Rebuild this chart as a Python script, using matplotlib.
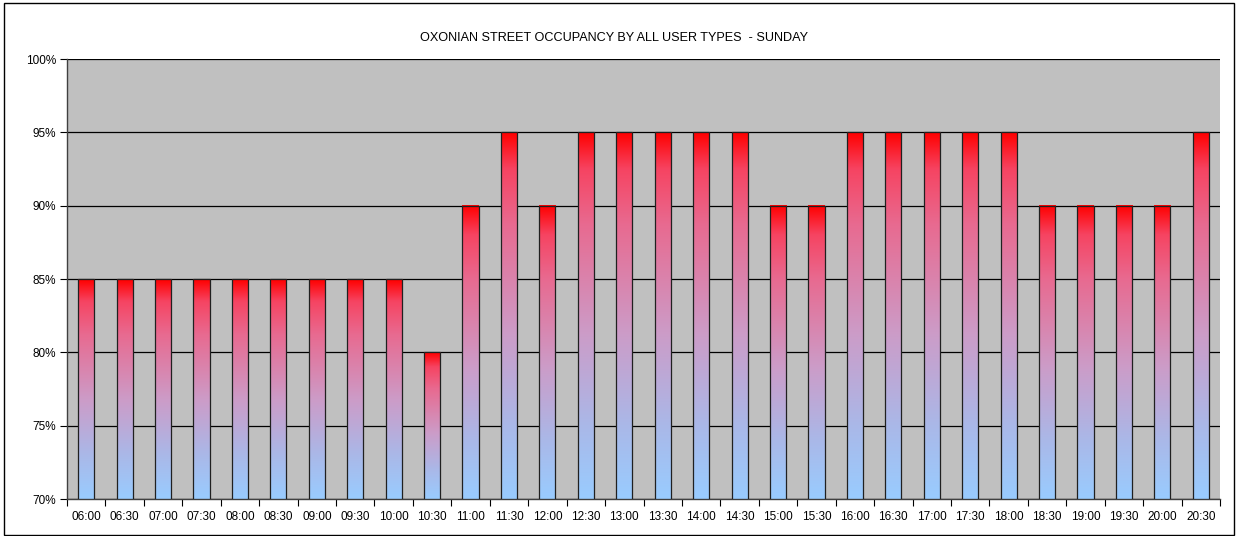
import numpy as np
import matplotlib
matplotlib.use("Agg")
import matplotlib.pyplot as plt
from matplotlib.colors import LinearSegmentedColormap
from matplotlib.patches import Rectangle
from matplotlib.ticker import FuncFormatter, MultipleLocator

times = ["06:00", "06:30", "07:00", "07:30", "08:00", "08:30", "09:00", "09:30",
         "10:00", "10:30", "11:00", "11:30", "12:00", "12:30", "13:00", "13:30",
         "14:00", "14:30", "15:00", "15:30", "16:00", "16:30", "17:00", "17:30",
         "18:00", "18:30", "19:00", "19:30", "20:00", "20:30"]
occupancy = [85, 85, 85, 85, 85, 85, 85, 85, 85, 80, 90, 95, 90, 95, 95, 95,
             95, 95, 90, 90, 95, 95, 95, 95, 95, 90, 90, 90, 90, 95]

title = "OXONIAN STREET OCCUPANCY BY ALL USER TYPES  - SUNDAY"
y_min, y_max = 70, 100

plt.rcParams["font.family"] = ["Liberation Sans", "DejaVu Sans"]

W, H = 1239, 536
fig = plt.figure(figsize=(W / 100, H / 100), dpi=100)
fig.patch.set_facecolor("white")
fig.patches.append(Rectangle((4 / W, 1 / H), (W - 9) / W, (H - 4) / H,
                             transform=fig.transFigure, fill=False,
                             edgecolor="black", linewidth=1.0))

ax = fig.add_axes([67 / W, 1 - 499 / H, (1220 - 67) / W, (499 - 59) / H])
ax.set_facecolor("#C0C0C0")

x = np.arange(len(times))
bar_w = 0.42
bars = ax.bar(x, occupancy, width=bar_w, bottom=0, color="none",
              edgecolor="#202020", linewidth=0.9, zorder=3)

# vertical gradient: red at the top of each bar, light blue at its base
cmap = LinearSegmentedColormap.from_list(
    "occ", [(0.0, "#99CCFF"), (0.2, "#AAB8E8"), (0.45, "#CC9CC8"),
            (0.75, "#E86A90"), (0.9, "#F64462"), (1.0, "#FF0000")])
grad = np.linspace(0, 1, 256).reshape(-1, 1)
for xi, val in zip(x, occupancy):
    ax.imshow(grad, cmap=cmap, origin="lower", aspect="auto", interpolation="bilinear",
              extent=(xi - bar_w / 2, xi + bar_w / 2, y_min, val), zorder=2)

ax.set_xlim(-0.5, len(times) - 0.5)
ax.set_ylim(y_min, y_max)

ax.yaxis.set_major_locator(MultipleLocator(5))
ax.yaxis.set_major_formatter(FuncFormatter(lambda v, p: f"{v:.0f}%"))
ax.grid(axis="y", color="black", linewidth=0.9, zorder=1)
ax.set_axisbelow(True)

ax.set_xticks(x)
ax.set_xticklabels(times)
ax.set_xticks(np.arange(len(times) + 1) - 0.5, minor=True)
ax.tick_params(axis="x", which="major", length=0, pad=9, labelsize=8.5)
ax.tick_params(axis="x", which="minor", length=5, width=0.8, direction="out")
ax.tick_params(axis="y", length=5, width=0.8, direction="out", labelsize=8.5, pad=3)

for side in ("top", "right"):
    ax.spines[side].set_visible(False)
ax.spines["left"].set_linewidth(1.0)
ax.spines["bottom"].set_linewidth(1.0)
ax.spines["left"].set_color("#404040")
ax.spines["bottom"].set_color("#404040")

fig.text(614 / W, 1 - 38 / H, title, ha="center", va="center", fontsize=9.1)

fig.savefig("out.png", dpi=100)
